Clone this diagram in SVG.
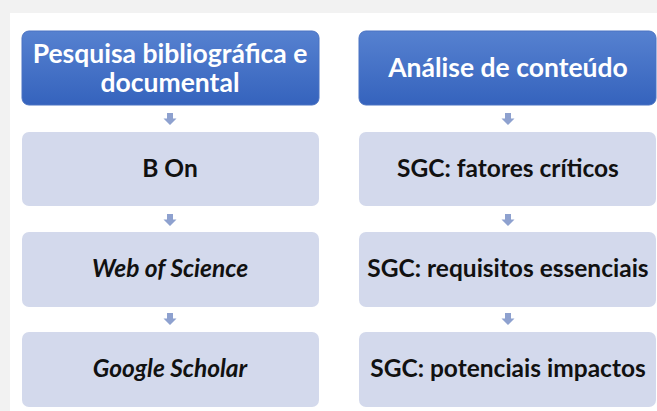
<svg xmlns="http://www.w3.org/2000/svg" width="657" height="411" viewBox="0 0 657 411">
<defs>
<linearGradient id="hg" x1="0" y1="0" x2="0" y2="1">
<stop offset="0" stop-color="#5681d0"/>
<stop offset="1" stop-color="#3563bd"/>
</linearGradient>
<style>
.hdr{fill:url(#hg);stroke:#4a72c2;stroke-width:1}
.box{fill:#d3d9ec}
.ht{font-family:Lato,"Open Sans",sans-serif;font-weight:bold;font-size:26.5px;fill:#fff;text-anchor:middle}
.bt{font-family:Lato,"Open Sans",sans-serif;font-weight:bold;font-size:24.5px;fill:#111;text-anchor:middle}
.it{font-style:italic}
.arr{fill:#8ea1cf}
</style>
</defs>
<rect width="657" height="411" fill="#f2f2f2"/>
<rect x="10" y="13" width="647" height="398" fill="#ffffff"/>
<g id="n1"><rect class="hdr" x="22" y="31" width="297" height="74" rx="7"/><text class="ht" x="170" y="63">Pesquisa bibliográfica e</text><text class="ht" x="170" y="92">documental</text></g>
<g id="n2"><rect class="box" x="22" y="132" width="297" height="74" rx="7"/><text class="bt" x="170" y="177">B On</text></g>
<g id="n3"><rect class="box" x="22" y="232" width="297" height="75" rx="7"/><text class="bt it" x="170" y="277">Web of Science</text></g>
<g id="n4"><rect class="box" x="22" y="332" width="297" height="75" rx="7"/><text class="bt it" x="170" y="377">Google Scholar</text></g>
<g id="n5"><rect class="hdr" x="359" y="31" width="297" height="74" rx="7"/><text class="ht" x="508" y="77">Análise de conteúdo</text></g>
<g id="n6"><rect class="box" x="359" y="132" width="297" height="74" rx="7"/><text class="bt" x="508" y="177">SGC: fatores críticos</text></g>
<g id="n7"><rect class="box" x="359" y="232" width="297" height="75" rx="7"/><text class="bt" x="508" y="277">SGC: requisitos essenciais</text></g>
<g id="n8"><rect class="box" x="359" y="332" width="297" height="75" rx="7"/><text class="bt" x="508" y="377">SGC: potenciais impactos</text></g>
<g id="connectors">
<path class="arr" d="M167 113h6v5.5h3.5l-6.5 6.5l-6.5-6.5h3.5z"/>
<path class="arr" d="M167 214h6v5.5h3.5l-6.5 6.5l-6.5-6.5h3.5z"/>
<path class="arr" d="M167 313h6v5.5h3.5l-6.5 6.5l-6.5-6.5h3.5z"/>
<path class="arr" d="M505 113h6v5.5h3.5l-6.5 6.5l-6.5-6.5h3.5z"/>
<path class="arr" d="M505 214h6v5.5h3.5l-6.5 6.5l-6.5-6.5h3.5z"/>
<path class="arr" d="M505 313h6v5.5h3.5l-6.5 6.5l-6.5-6.5h3.5z"/>
</g>
</svg>
